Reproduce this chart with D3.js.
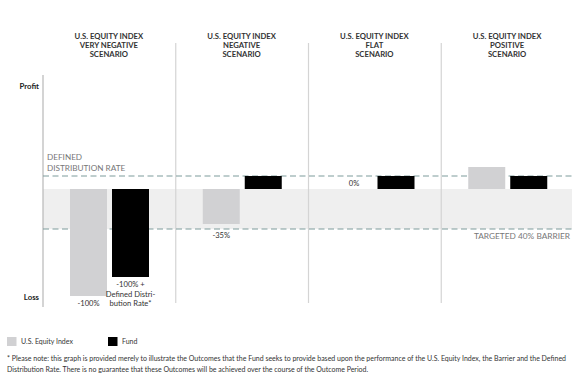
<!DOCTYPE html>
<html><head><meta charset="utf-8">
<script src="https://cdn.jsdelivr.net/npm/d3@7"></script>
<style>
html,body{margin:0;padding:0;background:#fff;}
svg{display:block;font-family:Lato,"Open Sans",sans-serif;}
</style></head>
<body>
<svg id="c" width="578" height="382"></svg>
<script>
// ---- data ----
const scenarios = ["Very Negative", "Negative", "Flat", "Positive"];
const headers = [
  ["U.S. EQUITY INDEX", "VERY NEGATIVE", "SCENARIO"],
  ["U.S. EQUITY INDEX", "NEGATIVE", "SCENARIO"],
  ["U.S. EQUITY INDEX", "FLAT", "SCENARIO"],
  ["U.S. EQUITY INDEX", "POSITIVE", "SCENARIO"]
];
const series = ["U.S. Equity Index", "Fund"];
const indexValues = [-107, -35, 0, 22];   // illustrative heights
const fundValues = [-88, 13, 13, 13];
const definedRate = 13;
const barrier = -40;
const indexLabels = [["-100%"], ["-35%"], ["0%"], []];
const fundLabels = [["-100% +", "Defined Distri-", "bution  Rate*"], [], [], []];
const footnote = [
  "* Please note: this graph is provided merely to illustrate the Outcomes that the Fund seeks to provide based upon the performance of the U.S. Equity Index, the Barrier and the Defined",
  "Distribution Rate. There is no guarantee that these Outcomes will be achieved over the course of the Outcome Period."
];

// ---- chart ----
const svg = d3.select("#c");
const colors = {"U.S. Equity Index": "#d1d1d3", "Fund": "#000000"};
const x = d3.scaleBand().domain(scenarios).range([43, 574]);
const xs = d3.scaleBand().domain(series).range([27, 106]).paddingInner(5/42);
const y = d3.scaleLinear().domain([-110, 100]).range([299, 89]);
const bandRight = 572;

// band between 0 and barrier
svg.append("rect").attr("x", 43).attr("width", bandRight - 43)
  .attr("y", y(0)).attr("height", y(barrier) - y(0)).attr("fill", "#efefef");

// dividers
scenarios.slice(1).forEach(s => {
  svg.append("line").attr("x1", x(s)).attr("x2", x(s)).attr("y1", 43).attr("y2", 303)
    .attr("stroke", "#d4d4d4").attr("stroke-width", 1.2);
});

// y axis
svg.append("line").attr("x1", 43).attr("x2", 43).attr("y1", 75).attr("y2", 307)
  .attr("stroke", "#b8b8b8").attr("stroke-width", 1.2);

// dashed lines
[definedRate, barrier].forEach(v => {
  svg.append("line").attr("x1", 43).attr("x2", bandRight).attr("y1", y(v)).attr("y2", y(v))
    .attr("stroke", "#7d9b9b").attr("stroke-width", 1).attr("stroke-dasharray", "6,3.5");
});

// bars
const rows = [];
scenarios.forEach((s, i) => {
  rows.push({s, k: "U.S. Equity Index", v: indexValues[i]});
  rows.push({s, k: "Fund", v: fundValues[i]});
});
svg.selectAll("rect.bar").data(rows.filter(d => d.v !== 0)).enter().append("rect")
  .attr("class", "bar")
  .attr("x", d => x(d.s) + xs(d.k))
  .attr("width", xs.bandwidth())
  .attr("y", d => y(Math.max(0, d.v)))
  .attr("height", d => Math.abs(y(d.v) - y(0)))
  .attr("fill", d => colors[d.k]);

// bar labels
function lines(g, arr, cx, y0, lh, size, fill) {
  arr.forEach((t, j) => {
    g.append("text").attr("x", cx).attr("y", y0 + j * lh).attr("text-anchor", "middle")
      .attr("font-size", size).attr("fill", fill).text(t);
  });
}
const labelPos = [[306], [237.5], [185.5], []];
scenarios.forEach((s, i) => {
  const cxI = x(s) + xs("U.S. Equity Index") + xs.bandwidth() / 2;
  const cxF = x(s) + xs("Fund") + xs.bandwidth() / 2;
  if (indexLabels[i].length) lines(svg, indexLabels[i], cxI, labelPos[i][0], 9.5, 7.6, "#333");
  if (fundLabels[i].length) lines(svg, fundLabels[i], cxF, 287, 9.5, 7.6, "#333");
});

// headers
scenarios.forEach((s, i) => {
  const cx = x(s) + x.bandwidth() / 2 - 0.5;
  headers[i].forEach((t, j) => {
    svg.append("text").attr("x", cx).attr("y", 39 + j * 9).attr("text-anchor", "middle")
      .attr("font-size", 7.7).attr("font-weight", 700).attr("fill", "#333").text(t);
  });
});

// profit/loss
svg.append("text").attr("x", 39).attr("y", 89).attr("text-anchor", "end")
  .attr("font-size", 7.8).attr("font-weight", 700).attr("fill", "#222").text("Profit");
svg.append("text").attr("x", 39).attr("y", 300).attr("text-anchor", "end")
  .attr("font-size", 7.8).attr("font-weight", 700).attr("fill", "#222").text("Loss");

// annotations
svg.append("text").attr("x", 47).attr("y", 160).attr("font-size", 8.2).attr("fill", "#777").text("DEFINED");
svg.append("text").attr("x", 47).attr("y", 170.5).attr("font-size", 8.2).attr("fill", "#777").text("DISTRIBUTION RATE");
svg.append("text").attr("x", 570).attr("y", 239).attr("text-anchor", "end")
  .attr("font-size", 8.3).attr("fill", "#777").text("TARGETED 40% BARRIER");

// legend
const lg = [{k: "U.S. Equity Index", x: 7, tx: 21}, {k: "Fund", x: 108, tx: 122}];
lg.forEach(l => {
  svg.append("rect").attr("x", l.x).attr("y", 337).attr("width", 9.5).attr("height", 9)
    .attr("fill", colors[l.k]);
  svg.append("text").attr("x", l.tx).attr("y", 344).attr("font-size", 7).attr("fill", "#333").text(l.k);
});

// footnote
const f1 = svg.append("text").attr("x", 7).attr("y", 361).attr("font-size", 6.5).attr("fill", "#333").text(footnote[0]);
const w = f1.node().getComputedTextLength();
const fs = 6.5 * 560 / w;
f1.attr("font-size", fs);
svg.append("text").attr("x", 7).attr("y", 371.5).attr("font-size", fs).attr("fill", "#333").text(footnote[1]);
</script>
</body></html>
